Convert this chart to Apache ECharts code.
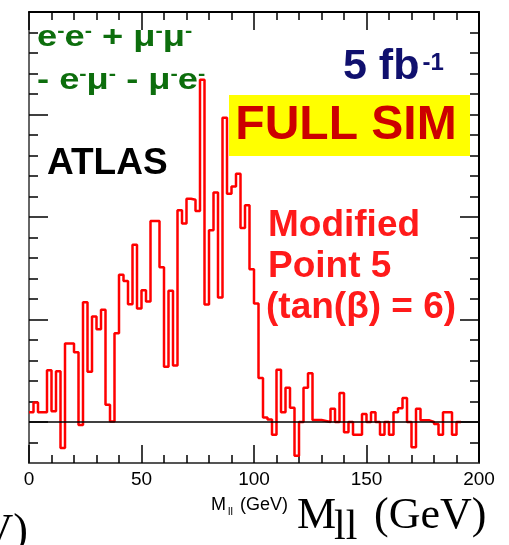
<!DOCTYPE html>
<html><head><meta charset="utf-8">
<script src="https://cdn.jsdelivr.net/npm/echarts@6/dist/echarts.min.js"></script>
<style>html,body{margin:0;padding:0;background:#fff}#c{width:509px;height:545px}</style>
</head><body><div id="c"></div><script>
// lower edges of the 2 GeV mass bins (GeV)
const binLowEdges = [0,2,4,6,8,10,12,14,16,18,20,22,24,26,28,30,32,34,36,38,40,42,44,46,48,
  50,52,54,56,58,60,62,64,66,68,70,72,74,76,78,80,82,84,86,88,90,92,94,96,98,
  100,102,104,106,108,110,112,114,116,118,120,122,124,126,128,130,132,134,136,138,
  140,142,144,146,148,150,152,154,156,158,160,162,164,166,168,170,172,174,176,178,
  180,182,184,186,188,190];
const binWidth = 2;
// flavour-subtracted entries per bin (in units of the minor y tick)
const counts = [0.47,0.95,0.47,0.47,2.52,0.52,2.47,-1.27,3.83,3.83,3.4,-0.15,5.84,2.45,5.15,4.53,5.47,0.84,0.03,4.33,
  7.18,6.88,5.75,8.65,5.54,6.43,5.88,9.81,9.81,7.55,2.69,6.4,2.76,10.33,9.68,10.89,10.84,10.29,16.69,5.73,
  9.35,11.19,6.07,14.84,11.14,11.49,12.11,9.46,10.57,7.45,5.78,2.15,0.22,0.12,-0.62,2.55,0.48,1.67,0.7,-1.65,
  0.0,1.67,2.38,0.1,0.1,0.05,0.0,0.65,0.0,1.41,-0.5,0.0,-0.62,-0.62,0.39,0.0,0.47,0.0,-0.62,0.0,
  -0.62,0.47,0.67,1.17,0.0,-1.23,0.65,0.08,0.08,0.0,-0.1,-0.62,0.48,0.48,-0.62,0.0];
const xTickLabels = ['0','50','100','150','200'];
const yMajorTicks = [0,5,10,15,20];
const yMinorTicks = [-1,1,2,3,4,6,7,8,9,11,12,13,14,16,17,18,19];

const stepData = [];
binLowEdges.forEach((lo, i) => { stepData.push([lo, counts[i]], [lo + binWidth, counts[i]]); });

const SANS = '"Liberation Sans", Arial, Helvetica, sans-serif';
const SERIF = '"Liberation Serif", "Times New Roman", serif';
const GREEN = '#0d6e0d';
const NAVY = '#10106e';

function xAx(pos, labels, lineColor) {
  return {
    type: 'value', position: pos, min: 0, max: 200, interval: 50,
    axisLine: {show: true, onZero: false, lineStyle: {color: lineColor, width: 2}},
    axisTick: {show: true, inside: true, length: 18, lineStyle: {color: '#000', width: 1.5}},
    minorTick: {show: true, splitNumber: 5, length: 8, lineStyle: {color: '#000', width: 1.5}},
    splitLine: {show: false}, minorSplitLine: {show: false},
    axisLabel: {show: labels, fontSize: 19, color: '#000', fontFamily: SANS, margin: 7,
      formatter: (v) => xTickLabels[Math.round(v / 50)]}
  };
}
function yAx(pos, ticks, len, lineShow, lineColor) {
  return {
    type: 'value', position: pos, min: -2, max: 20, interval: 1,
    axisLine: {show: lineShow, onZero: false, lineStyle: {color: lineColor, width: 2}},
    axisTick: {show: true, inside: true, length: len, customValues: ticks, lineStyle: {color: '#000', width: 1.5}},
    axisLabel: {show: false}, splitLine: {show: false}
  };
}
const greenRich = {
  b: {font: 'bold 30px ' + SANS, fill: GREEN},
  s: {font: 'bold 18px ' + SANS, fill: GREEN, verticalAlign: 'top'}
};

const chart = echarts.init(document.getElementById('c'), null, {renderer: 'canvas'});
chart.setOption({
  animation: false,
  backgroundColor: '#fff',
  grid: {left: 29, top: 12, width: 450, height: 451},
  xAxis: [xAx('bottom', true, '#555'), xAx('top', false, '#000')],
  yAxis: [
    yAx('left', yMajorTicks, 19, true, '#666'),
    yAx('left', yMinorTicks, 9, false, '#666'),
    yAx('right', yMajorTicks, 19, true, '#000'),
    yAx('right', yMinorTicks, 9, false, '#000')
  ],
  series: [{
    type: 'line', data: stepData, symbol: 'none', xAxisIndex: 0, yAxisIndex: 0,
    lineStyle: {color: '#ff0000', width: 2.5}, z: 2,
    markLine: {silent: true, symbol: ['none', 'none'], label: {show: false},
      lineStyle: {color: '#000', type: 'solid', width: 1.5}, data: [{yAxis: 0}]}
  }],
  graphic: [
    {type: 'rect', z: 100, shape: {x: 229, y: 95, width: 241, height: 61}, style: {fill: '#ffff00'}},
    {type: 'text', z: 101, x: 346, y: 126, style: {text: 'FULL SIM', font: 'bold 48px ' + SANS, fill: '#cc0000', align: 'center', verticalAlign: 'middle', textAlign: 'center', textVerticalAlign: 'middle'}},
    {type: 'text', z: 101, x: 37, y: 23, scaleX: 1.21, style: {
      text: '{b|e}{s|-}{b|e}{s|-}{b| + μ}{s|-}{b|μ}{s|-}', fill: GREEN, rich: greenRich}},
    {type: 'text', z: 101, x: 37, y: 66, scaleX: 1.21, style: {
      text: '{b|- e}{s|-}{b|μ}{s|-}{b| - μ}{s|-}{b|e}{s|-}', fill: GREEN, rich: greenRich}},
    {type: 'text', z: 101, x: 47, y: 145, style: {text: 'ATLAS', font: 'bold 37px ' + SANS, fill: '#000'}},
    {type: 'text', z: 101, x: 343, y: 46, style: {
      text: '{a|5 fb}{s|-1}', fill: NAVY,
      rich: {a: {font: 'bold 43px ' + SANS, fill: NAVY}, s: {font: 'bold 24px ' + SANS, fill: NAVY, verticalAlign: 'top', padding: [5, 0, 0, 3]}}}},
    {type: 'text', z: 101, x: 268, y: 207, style: {text: 'Modified', font: 'bold 37px ' + SANS, fill: '#ff1a1a'}},
    {type: 'text', z: 101, x: 268, y: 248, style: {text: 'Point 5', font: 'bold 37px ' + SANS, fill: '#ff1a1a'}},
    {type: 'text', z: 101, x: 266, y: 289, style: {text: '(tan(β) = 6)', font: 'bold 37px ' + SANS, fill: '#ff1a1a'}},
    {type: 'text', z: 101, x: 211, y: 496, style: {text: 'M', font: '18px ' + SANS, fill: '#000'}},
    {type: 'text', z: 101, x: 228, y: 506, style: {text: 'll', font: '11px ' + SANS, fill: '#000'}},
    {type: 'text', z: 101, x: 240, y: 496, style: {text: '(GeV)', font: '18px ' + SANS, fill: '#000'}},
    {type: 'text', z: 101, x: 297, y: 494, style: {text: 'M', font: '44px ' + SERIF, fill: '#000'}},
    {type: 'text', z: 101, x: 334, y: 507, style: {text: 'll', font: '42px ' + SERIF, fill: '#000'}},
    {type: 'text', z: 101, x: 374, y: 494, style: {text: '(GeV)', font: '44px ' + SERIF, fill: '#000'}},
    {type: 'text', z: 101, x: 28, y: 510, style: {text: '(GeV)', font: '44px ' + SERIF, fill: '#000', align: 'right', textAlign: 'right'}}
  ]
});
</script></body></html>
